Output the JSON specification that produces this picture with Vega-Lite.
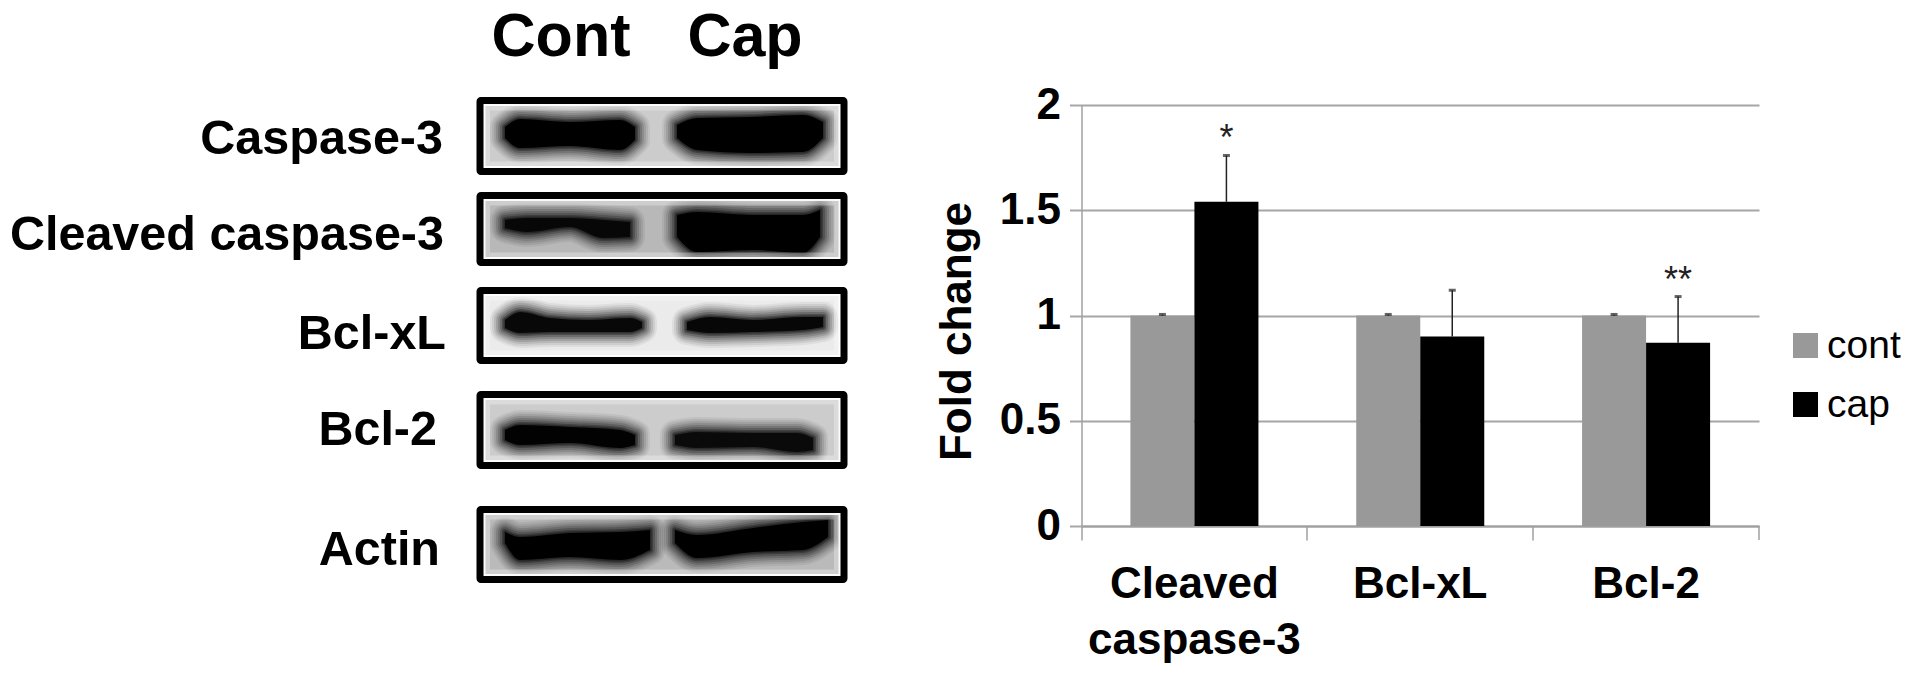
{"$schema":"https://vega.github.io/schema/vega-lite/v6.json","padding":0,"background":"white","bounds":"flush","spacing":181.5,"config":{"view":{"stroke":null},"font":"Liberation Sans"},
"datasets":{
"frames":[{"protein":"Caspase-3","left":480,"right":844,"top":100.5,"bottom":171.5,"haze":0.2},{"protein":"Cleaved caspase-3","left":480,"right":844,"top":195.5,"bottom":262.5,"haze":0.28},{"protein":"Bcl-xL","left":480,"right":844,"top":290.5,"bottom":360.5,"haze":0.08},{"protein":"Bcl-2","left":480,"right":844,"top":394.5,"bottom":465.5,"haze":0.2},{"protein":"Actin","left":480,"right":844,"top":509.5,"bottom":579.5,"haze":0.27}],
"labels":[{"text":"Caspase-3","xr":443,"yb":154},{"text":"Cleaved caspase-3","xr":444,"yb":250},{"text":"Bcl-xL","xr":446,"yb":349},{"text":"Bcl-2","xr":437,"yb":445},{"text":"Actin","xr":440,"yb":565}],
"heads":[{"text":"Cont","xc":561,"yb":56},{"text":"Cap","xc":745,"yb":56}],
"density":[{"band":"c3-cont","density":1},{"band":"c3-cap","density":1},{"band":"cc3-cont","density":0.8},{"band":"cc3-cap","density":1},{"band":"xl-cont","density":0.82},{"band":"xl-cap","density":0.85},{"band":"b2-cont","density":0.95},{"band":"b2-cap","density":0.75},{"band":"ac-cont","density":1},{"band":"ac-cap","density":1}],
"bands":[
{"band":"c3-cont","pos":505,"top":127,"bottom":138},{"band":"c3-cont","pos":520,"top":119,"bottom":148},{"band":"c3-cont","pos":570,"top":122,"bottom":146},{"band":"c3-cont","pos":620,"top":120,"bottom":150},{"band":"c3-cont","pos":635,"top":127,"bottom":140},
{"band":"c3-cap","pos":677,"top":125,"bottom":138},{"band":"c3-cap","pos":697,"top":118,"bottom":150},{"band":"c3-cap","pos":750,"top":117,"bottom":153},{"band":"c3-cap","pos":803,"top":115,"bottom":152},{"band":"c3-cap","pos":823,"top":122,"bottom":138},
{"band":"cc3-cont","pos":505,"top":220,"bottom":228},{"band":"cc3-cont","pos":527,"top":218,"bottom":232},{"band":"cc3-cont","pos":570,"top":218,"bottom":227},{"band":"cc3-cont","pos":603,"top":220,"bottom":238},{"band":"cc3-cont","pos":630,"top":222,"bottom":237},
{"band":"cc3-cap","pos":677,"top":215,"bottom":237},{"band":"cc3-cap","pos":697,"top":212,"bottom":252},{"band":"cc3-cap","pos":753,"top":215,"bottom":250},{"band":"cc3-cap","pos":803,"top":215,"bottom":253},{"band":"cc3-cap","pos":820,"top":210,"bottom":237},
{"band":"xl-cont","pos":505,"top":320,"bottom":328},{"band":"xl-cont","pos":520,"top":312,"bottom":333},{"band":"xl-cont","pos":550,"top":318,"bottom":332},{"band":"xl-cont","pos":587,"top":320,"bottom":332},{"band":"xl-cont","pos":630,"top":318,"bottom":332},{"band":"xl-cont","pos":642,"top":322,"bottom":328},
{"band":"xl-cap","pos":687,"top":322,"bottom":330},{"band":"xl-cap","pos":710,"top":317,"bottom":333},{"band":"xl-cap","pos":753,"top":320,"bottom":332},{"band":"xl-cap","pos":803,"top":317,"bottom":330},{"band":"xl-cap","pos":823,"top":317,"bottom":327},
{"band":"b2-cont","pos":505,"top":430,"bottom":440},{"band":"b2-cont","pos":520,"top":425,"bottom":445},{"band":"b2-cont","pos":570,"top":427,"bottom":443},{"band":"b2-cont","pos":620,"top":430,"bottom":448},{"band":"b2-cont","pos":635,"top":435,"bottom":445},
{"band":"b2-cap","pos":675,"top":435,"bottom":445},{"band":"b2-cap","pos":697,"top":432,"bottom":448},{"band":"b2-cap","pos":753,"top":433,"bottom":447},{"band":"b2-cap","pos":797,"top":433,"bottom":452},{"band":"b2-cap","pos":813,"top":438,"bottom":450},
{"band":"ac-cont","pos":505,"top":532,"bottom":543},{"band":"ac-cont","pos":520,"top":537,"bottom":560},{"band":"ac-cont","pos":570,"top":533,"bottom":557},{"band":"ac-cont","pos":620,"top":532,"bottom":560},{"band":"ac-cont","pos":650,"top":530,"bottom":550},
{"band":"ac-cap","pos":675,"top":530,"bottom":543},{"band":"ac-cap","pos":697,"top":535,"bottom":558},{"band":"ac-cap","pos":753,"top":528,"bottom":552},{"band":"ac-cap","pos":803,"top":522,"bottom":550},{"band":"ac-cap","pos":828,"top":520,"bottom":537}
],
"chart":[
{"target":"Cleaved caspase-3","group":"cont","fold":1,"upper":1.005},{"target":"Cleaved caspase-3","group":"cap","fold":1.54,"upper":1.76},
{"target":"Bcl-xL","group":"cont","fold":1,"upper":1.005},{"target":"Bcl-xL","group":"cap","fold":0.9,"upper":1.12},
{"target":"Bcl-2","group":"cont","fold":1,"upper":1.005},{"target":"Bcl-2","group":"cap","fold":0.87,"upper":1.09}
],
"stars":[{"target":"Cleaved caspase-3","group":"cap","sig":"*","at":1.88},{"target":"Bcl-2","group":"cap","sig":"**","at":1.205}]
},
"hconcat":[
{"width":900,"height":673,
"layer":[
{"data":{"name":"frames"},"mark":{"type":"rect","fill":"white"},"encoding":{"x":{"field":"left","type":"quantitative","scale":{"domain":[0,900],"nice":false,"zero":false},"axis":null},"x2":{"field":"right"},"y":{"field":"top","type":"quantitative","scale":{"domain":[673,0],"nice":false,"zero":false},"axis":null},"y2":{"field":"bottom"}}},
{"data":{"name":"frames"},"mark":{"type":"rect","fill":"black"},"encoding":{"x":{"field":"left","type":"quantitative","axis":null},"x2":{"field":"right"},"y":{"field":"top","type":"quantitative","axis":null},"y2":{"field":"bottom"},"opacity":{"field":"haze","type":"quantitative","scale":{"domain":[0,1],"range":[0,1]},"legend":null}}},
{"data":{"name":"bands"},"mark":{"type":"area","color":"black","stroke":"black","strokeWidth":30,"strokeJoin":"round","opacity":0.05,"interpolate":"monotone"},"encoding":{"x":{"field":"pos","type":"quantitative","axis":null},"y":{"field":"top","type":"quantitative","axis":null},"y2":{"field":"bottom"},"detail":{"field":"band"}}},
{"data":{"name":"bands"},"mark":{"type":"area","color":"black","stroke":"black","strokeWidth":26,"strokeJoin":"round","opacity":0.07,"interpolate":"monotone"},"encoding":{"x":{"field":"pos","type":"quantitative","axis":null},"y":{"field":"top","type":"quantitative","axis":null},"y2":{"field":"bottom"},"detail":{"field":"band"}}},
{"data":{"name":"bands"},"mark":{"type":"area","color":"black","stroke":"black","strokeWidth":22,"strokeJoin":"round","opacity":0.09,"interpolate":"monotone"},"encoding":{"x":{"field":"pos","type":"quantitative","axis":null},"y":{"field":"top","type":"quantitative","axis":null},"y2":{"field":"bottom"},"detail":{"field":"band"}}},
{"data":{"name":"bands"},"mark":{"type":"area","color":"black","stroke":"black","strokeWidth":18,"strokeJoin":"round","opacity":0.12,"interpolate":"monotone"},"encoding":{"x":{"field":"pos","type":"quantitative","axis":null},"y":{"field":"top","type":"quantitative","axis":null},"y2":{"field":"bottom"},"detail":{"field":"band"}}},
{"data":{"name":"bands"},"mark":{"type":"area","color":"black","stroke":"black","strokeWidth":14,"strokeJoin":"round","opacity":0.15,"interpolate":"monotone"},"encoding":{"x":{"field":"pos","type":"quantitative","axis":null},"y":{"field":"top","type":"quantitative","axis":null},"y2":{"field":"bottom"},"detail":{"field":"band"}}},
{"data":{"name":"bands"},"mark":{"type":"area","color":"black","stroke":"black","strokeWidth":10,"strokeJoin":"round","opacity":0.2,"interpolate":"monotone"},"encoding":{"x":{"field":"pos","type":"quantitative","axis":null},"y":{"field":"top","type":"quantitative","axis":null},"y2":{"field":"bottom"},"detail":{"field":"band"}}},
{"data":{"name":"bands"},"mark":{"type":"area","color":"black","stroke":"black","strokeWidth":6,"strokeJoin":"round","opacity":0.28,"interpolate":"monotone"},"encoding":{"x":{"field":"pos","type":"quantitative","axis":null},"y":{"field":"top","type":"quantitative","axis":null},"y2":{"field":"bottom"},"detail":{"field":"band"}}},
{"data":{"name":"bands"},"mark":{"type":"area","color":"black","stroke":"black","strokeWidth":3,"strokeJoin":"round","opacity":0.35,"interpolate":"monotone"},"encoding":{"x":{"field":"pos","type":"quantitative","axis":null},"y":{"field":"top","type":"quantitative","axis":null},"y2":{"field":"bottom"},"detail":{"field":"band"}}},
{"data":{"name":"bands"},"transform":[{"lookup":"band","from":{"data":{"name":"density"},"key":"band","fields":["density"]}}],"mark":{"type":"area","color":"black","interpolate":"monotone"},"encoding":{"x":{"field":"pos","type":"quantitative","axis":null},"y":{"field":"top","type":"quantitative","axis":null},"y2":{"field":"bottom"},"detail":{"field":"band"},"opacity":{"field":"density","type":"quantitative","scale":{"domain":[0,1],"range":[0,1]},"legend":null}}},
{"data":{"name":"frames"},"mark":{"type":"rect","fill":null,"stroke":"white","strokeWidth":20,"opacity":0.3},"encoding":{"x":{"field":"left","type":"quantitative","axis":null},"x2":{"field":"right"},"y":{"field":"top","type":"quantitative","axis":null},"y2":{"field":"bottom"}}},
{"data":{"name":"frames"},"mark":{"type":"rect","fill":null,"stroke":"white","strokeWidth":11,"opacity":0.9},"encoding":{"x":{"field":"left","type":"quantitative","axis":null},"x2":{"field":"right"},"y":{"field":"top","type":"quantitative","axis":null},"y2":{"field":"bottom"}}},
{"data":{"name":"frames"},"mark":{"type":"rect","fill":null,"stroke":"black","strokeWidth":7,"cornerRadius":1},"encoding":{"x":{"field":"left","type":"quantitative","axis":null},"x2":{"field":"right"},"y":{"field":"top","type":"quantitative","axis":null},"y2":{"field":"bottom"}}},
{"data":{"name":"labels"},"mark":{"type":"text","align":"right","baseline":"alphabetic","font":"Liberation Sans","fontWeight":"bold","fontSize":48.5,"color":"black"},"encoding":{"x":{"field":"xr","type":"quantitative","axis":null},"y":{"field":"yb","type":"quantitative","axis":null},"text":{"field":"text"}}},
{"data":{"name":"heads"},"mark":{"type":"text","align":"center","baseline":"alphabetic","font":"Liberation Sans","fontWeight":"bold","fontSize":61,"color":"black"},"encoding":{"x":{"field":"xc","type":"quantitative","axis":null},"y":{"field":"yb","type":"quantitative","axis":null},"text":{"field":"text"}}}
]
},
{"width":677.5,"height":673,"data":{"name":"chart"},
"layer":[
{"mark":{"type":"bar"},"encoding":{
"x":{"field":"target","type":"nominal","sort":["Cleaved caspase-3","Bcl-xL","Bcl-2"],"scale":{"paddingInner":0,"paddingOuter":0},"title":null,"axis":{"offset":-147,"orient":"bottom","bandPosition":0,"tickSize":14,"tickWidth":1.5,"tickColor":"#a0a0a0","domainColor":"#a0a0a0","domainWidth":2,"labelAngle":0,"labelFont":"Liberation Sans","labelFontWeight":"bold","labelFontSize":44,"labelColor":"black","labelPadding":22,"labelLineHeight":56,"labelBaseline":"top","labelLimit":400,"labelExpr":"datum.value=='Cleaved caspase-3' ? ['Cleaved','caspase-3'] : datum.value"}},
"xOffset":{"field":"group","type":"nominal","sort":["cont","cap"],"scale":{"paddingInner":0,"paddingOuter":0.764}},
"y":{"field":"fold","type":"quantitative","scale":{"domain":[0,2],"range":[526,105],"nice":false},"axis":{"values":[0,0.5,1,1.5,2],"format":"~g","grid":true,"gridColor":"#a6a6a6","gridWidth":2,"tickColor":"#a6a6a6","tickWidth":2,"tickSize":12,"domainColor":"#a0a0a0","domainWidth":1.5,"labelFont":"Liberation Sans","labelFontWeight":"bold","labelFontSize":44,"labelColor":"black","labelPadding":9,"title":"Fold change","titleFont":"Liberation Sans","titleFontWeight":"bold","titleFontSize":44,"titleColor":"black","titleX":-102,"titleY":331}},
"color":{"field":"group","type":"nominal","sort":["cont","cap"],"scale":{"domain":["cont","cap"],"range":["#999999","#000000"]},"legend":{"orient":"none","legendX":1786,"legendY":326,"title":null,"symbolType":"square","symbolSize":625,"symbolStrokeWidth":0,"labelFont":"Liberation Sans","labelFontSize":39,"labelColor":"black","labelOffset":2,"rowPadding":19,"labelLimit":200}}
}},
{"mark":{"type":"rule","color":"#222222","strokeWidth":1.5},"encoding":{"x":{"field":"target","type":"nominal","sort":["Cleaved caspase-3","Bcl-xL","Bcl-2"]},"xOffset":{"field":"group","type":"nominal","sort":["cont","cap"]},"y":{"field":"fold","type":"quantitative"},"y2":{"field":"upper"}}},
{"mark":{"type":"tick","color":"#222222","size":7,"thickness":3},"encoding":{"x":{"field":"target","type":"nominal","sort":["Cleaved caspase-3","Bcl-xL","Bcl-2"]},"xOffset":{"field":"group","type":"nominal","sort":["cont","cap"]},"y":{"field":"upper","type":"quantitative"}}},
{"data":{"name":"stars"},"mark":{"type":"text","font":"Liberation Sans","fontSize":36,"color":"#222222","baseline":"alphabetic","dy":20},"encoding":{"x":{"field":"target","type":"nominal","sort":["Cleaved caspase-3","Bcl-xL","Bcl-2"]},"xOffset":{"field":"group","type":"nominal","sort":["cont","cap"]},"y":{"field":"at","type":"quantitative"},"text":{"field":"sig"}}},
{"data":{"values":[{"target":"Bcl-2"}]},"mark":{"type":"rule","color":"#a0a0a0","strokeWidth":1.5},"encoding":{"x":{"field":"target","type":"nominal","sort":["Cleaved caspase-3","Bcl-xL","Bcl-2"],"bandPosition":1},"y":{"datum":0,"type":"quantitative"},"y2":{"datum":-0.066}}}
]}
]}
